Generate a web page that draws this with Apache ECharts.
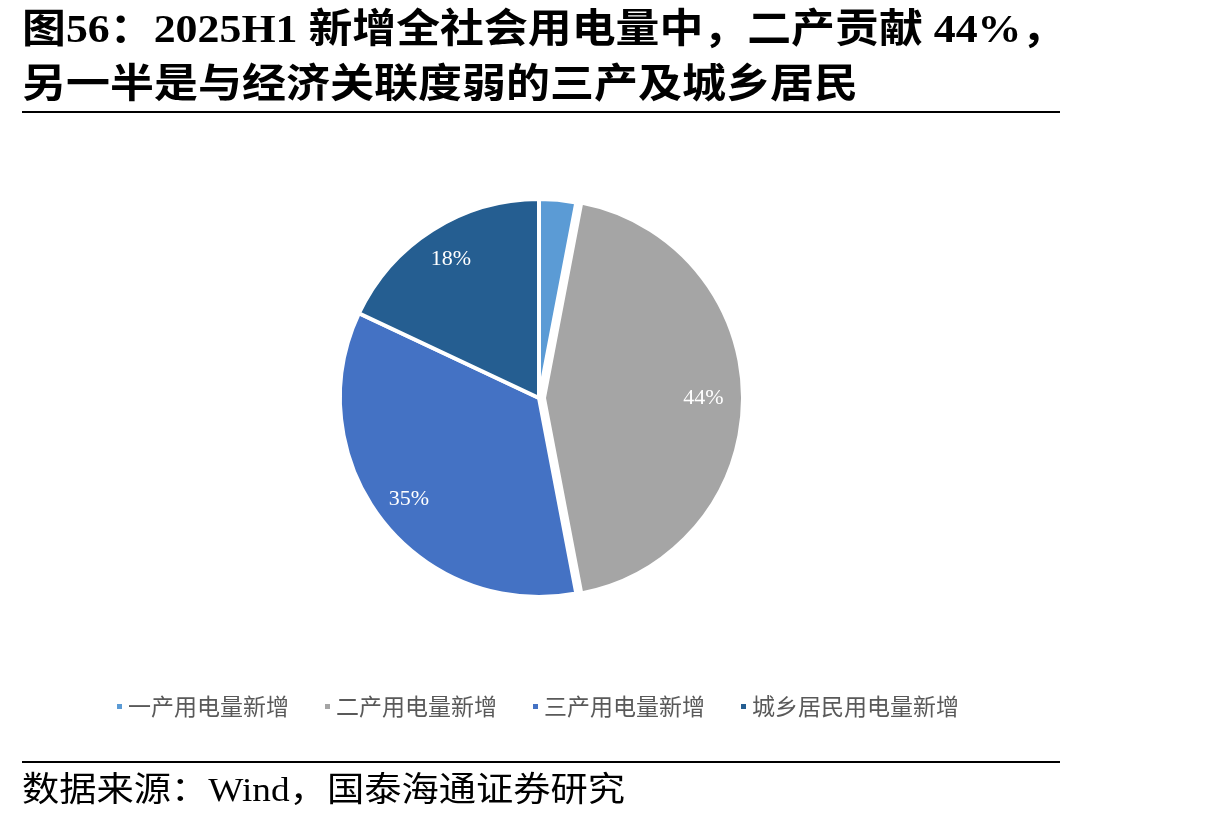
<!DOCTYPE html>
<html>
<head>
<meta charset="utf-8">
<script src="https://cdn.jsdelivr.net/npm/echarts@6/dist/echarts.min.js"></script>
<style>
html,body{margin:0;padding:0;background:#fff;}
#main{width:1215px;height:821px;}
</style>
</head>
<body>
<div id="main"></div>
<script>
const categories = ['一产用电量新增', '二产用电量新增', '三产用电量新增', '城乡居民用电量新增'];
const values = [3, 44, 35, 18];
const colors = ['#5B9BD5', '#A5A5A5', '#4472C4', '#255E91'];
const titleLines = ['图56：2025H1 新增全社会用电量中，二产贡献 44%，', '另一半是与经济关联度弱的三产及城乡居民'];
const sourceText = '数据来源：Wind，国泰海通证券研究';

const chart = echarts.init(document.getElementById('main'));
const serifCJK = '"Liberation Serif", "Times New Roman", "Noto Sans CJK SC", serif';

const pieData = categories.map((c, i) => ({
  name: c,
  value: values[i],
  itemStyle: { color: colors[i] },
  selected: i === 1
}));
const labelData = categories.map((c, i) => ({
  name: c,
  value: values[i],
  label: { show: i !== 0 }
}));

chart.setOption({
  animation: false,
  backgroundColor: '#ffffff',
  legend: {
    data: categories,
    top: 690,
    left: 110,
    icon: 'rect',
    itemWidth: 7,
    itemHeight: 7,
    itemGap: 34,
    textStyle: { fontSize: 23, color: '#595959', fontFamily: '"Noto Sans CJK SC", sans-serif' },
    selectedMode: false
  },
  graphic: [
    { type: 'text', x: 22, y: 12, scaleX: 1.097, style: { text: titleLines[0], font: 'bold 40px ' + serifCJK, fill: '#000' } },
    { type: 'text', x: 22, y: 67, scaleX: 1.1, style: { text: titleLines[1], font: 'bold 40px ' + serifCJK, fill: '#000' } },
    { type: 'rect', shape: { x: 22, y: 111, width: 1038, height: 2 }, style: { fill: '#000' } },
    { type: 'rect', shape: { x: 22, y: 761, width: 1038, height: 2 }, style: { fill: '#000' } },
    { type: 'text', x: 22, y: 775, scaleX: 1.096, style: { text: sourceText, font: '34px ' + serifCJK, fill: '#000' } }
  ],
  series: [
    {
      type: 'pie',
      center: [539, 398],
      radius: 199,
      startAngle: 90,
      clockwise: true,
      selectedMode: 'single',
      selectedOffset: 5,
      data: pieData,
      label: { show: false },
      labelLine: { show: false },
      itemStyle: { borderColor: '#ffffff', borderWidth: 4 },
      emphasis: { disabled: true }
    },
    {
      type: 'pie',
      center: [539, 398],
      radius: [124, 199],
      startAngle: 90,
      clockwise: true,
      silent: true,
      data: labelData,
      itemStyle: { color: 'rgba(0,0,0,0)', borderWidth: 0 },
      label: {
        position: 'inside',
        formatter: '{c}%',
        color: '#ffffff',
        fontSize: 22,
        fontFamily: '"Liberation Serif", "Times New Roman", serif'
      },
      labelLine: { show: false },
      emphasis: { disabled: true }
    }
  ]
});
</script>
</body>
</html>
